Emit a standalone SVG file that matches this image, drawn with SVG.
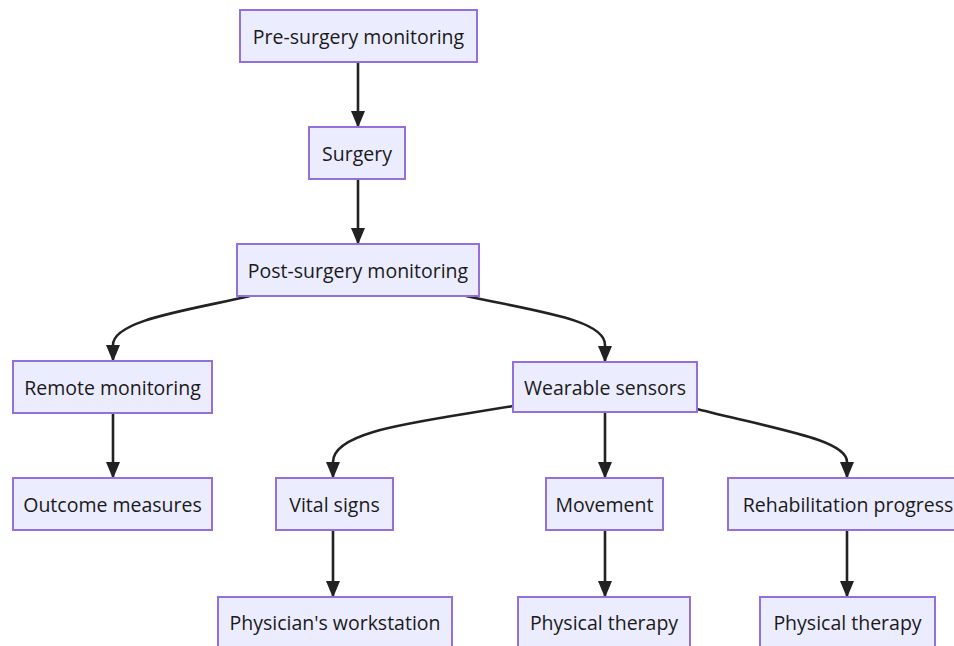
<svg xmlns="http://www.w3.org/2000/svg" width="954" height="646" viewBox="0 0 954 646">
<style>
.node rect{fill:#ECECFF;stroke:#9370DB;stroke-width:2}
.node text{font-family:"Open Sans","DejaVu Sans",sans-serif;font-size:19.5px;fill:#1a1a1a;text-anchor:middle;dominant-baseline:central}
.edge{fill:none;stroke:#222;stroke-width:2.6;marker-end:url(#arrow)}
</style>
<defs>
<marker id="arrow" viewBox="0 0 10 10" refX="9" refY="5" markerWidth="17" markerHeight="17" markerUnits="userSpaceOnUse" orient="auto">
<path d="M0,0.8 L10,5 L0,9.2 z" fill="#222"/>
</marker>
</defs>
<rect width="954" height="646" fill="#ffffff"/>
<g id="edges">
<path class="edge" d="M358,62 L358,126"/>
<path class="edge" d="M358,179 L358,243"/>
<path class="edge" d="M250,296 C190,310 113,320 113,345 L113,360"/>
<path class="edge" d="M466,296 C540,312 605,320 605,345 L605,361"/>
<path class="edge" d="M113,413 L113,477"/>
<path class="edge" d="M513,406 C420,422 333,430 333,462 L333,477"/>
<path class="edge" d="M605,412 L605,477"/>
<path class="edge" d="M697,409 C780,430 847,440 847,462 L847,477"/>
<path class="edge" d="M333,530 L333,596"/>
<path class="edge" d="M605,530 L605,596"/>
<path class="edge" d="M847,530 L847,596"/>
</g>
<g id="n-pre" class="node"><rect x="240" y="10" width="237" height="52"/><text x="358.5" y="36">Pre-surgery monitoring</text></g>
<g id="n-surgery" class="node"><rect x="309" y="127" width="96" height="52"/><text x="357" y="153">Surgery</text></g>
<g id="n-post" class="node"><rect x="237" y="244" width="242" height="52"/><text x="358" y="270">Post-surgery monitoring</text></g>
<g id="n-remote" class="node"><rect x="13" y="361" width="199" height="52"/><text x="112.5" y="387">Remote monitoring</text></g>
<g id="n-wearable" class="node"><rect x="513" y="362" width="184" height="50"/><text x="605" y="387">Wearable sensors</text></g>
<g id="n-outcome" class="node"><rect x="13" y="478" width="199" height="52"/><text x="112.5" y="504">Outcome measures</text></g>
<g id="n-vital" class="node"><rect x="276" y="478" width="117" height="52"/><text x="334.5" y="504">Vital signs</text></g>
<g id="n-movement" class="node"><rect x="546" y="478" width="117" height="52"/><text x="604.5" y="504">Movement</text></g>
<g id="n-rehab" class="node"><rect x="728" y="478" width="240" height="52"/><text x="848" y="504">Rehabilitation progress</text></g>
<g id="n-physician" class="node"><rect x="218" y="597" width="234" height="50"/><text x="335" y="622">Physician's workstation</text></g>
<g id="n-pt1" class="node"><rect x="518" y="597" width="172" height="50"/><text x="604" y="622">Physical therapy</text></g>
<g id="n-pt2" class="node"><rect x="760" y="597" width="175" height="50"/><text x="847.5" y="622">Physical therapy</text></g>
</svg>
